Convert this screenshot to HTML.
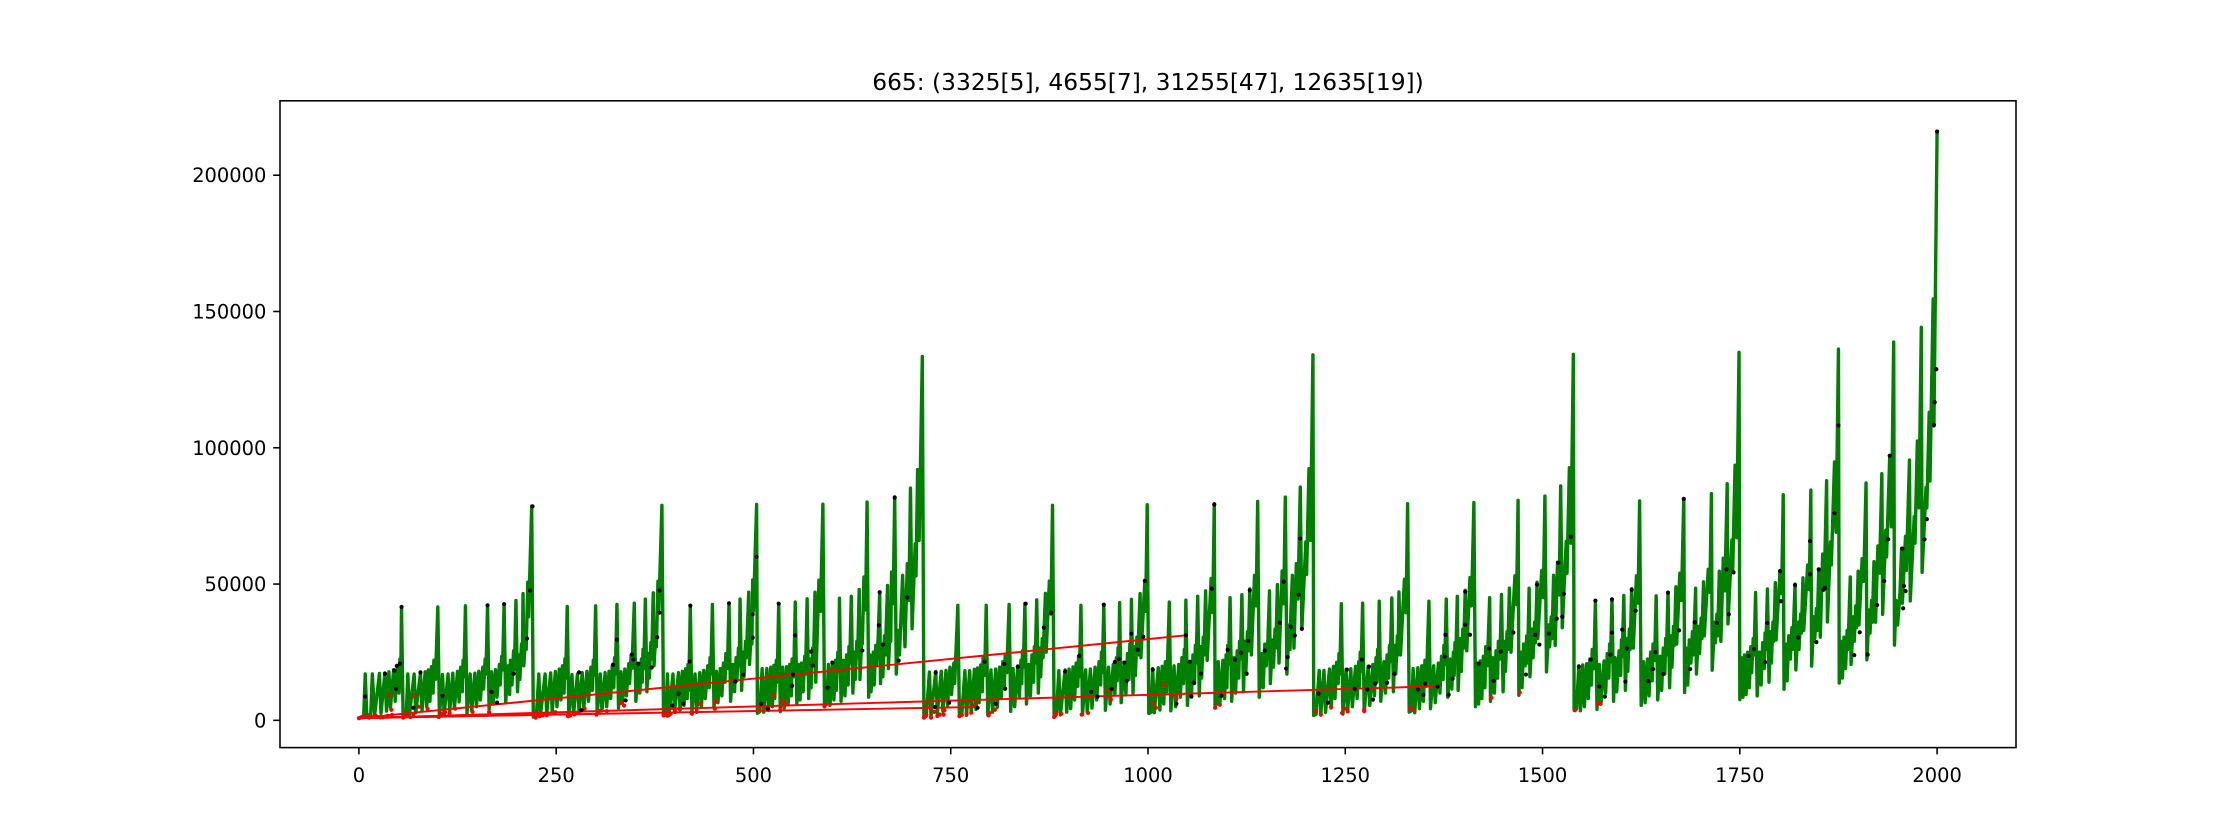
<!DOCTYPE html>
<html lang="en">
<head>
<meta charset="utf-8">
<title>665 chart</title>
<style>
html,body{margin:0;padding:0;background:#fff;}
body{width:2240px;height:840px;overflow:hidden;}
svg{display:block;}
text{font-family:"DejaVu Sans","Liberation Sans",sans-serif;fill:#000;}
</style>
</head>
<body>
<svg id="chart" xmlns="http://www.w3.org/2000/svg" width="2240" height="840" viewBox="0 0 2240 840">
<rect x="0" y="0" width="2240" height="840" fill="#fff"/>
<text x="1148" y="90" font-size="23.33" text-anchor="middle">665: (3325[5], 4655[7], 31255[47], 12635[19])</text>
<g id="marks"></g>
<g id="axes"></g>
</svg>
<script>
const xTickLabels=[0,250,500,750,1000,1250,1500,1750,2000];
const yTickLabels=[0,50000,100000,150000,200000];
const rayStartX=[0];
const rayStartY=[800];
const rayEndX=[1048,1366,784,250,215];
const rayEndY=[31200,12500,4900,2800,2000];
const lineX=[
0,4,6,8,10,15,17,20,26,28,33,35,38,40,44,46,49,51,52,53,54,
56,60,62,64,70,72,78,80,84,86,88,90,92,94,95,97,100,
102,106,108,113,115,119,121,125,127,129,131,132,133,135,
137,141,143,147,149,152,154,157,158,160,161,163,
165,168,170,173,175,178,179,181,182,184,
186,189,191,192,194,196,197,199,
201,203,204,206,207,208,
209,211,212,214,215,219,
221,225,228,230,236,238,243,245,249,251,254,256,258,260,261,262,264,
266,270,272,277,279,283,285,289,291,294,296,297,298,300,
302,306,308,312,314,317,319,321,323,324,325,327,
329,332,334,337,339,342,343,345,346,349,
351,354,356,358,359,360,361,363,
365,367,368,370,371,373,
374,376,377,379,380,384,
386,389,391,393,398,400,405,407,410,412,414,416,417,418,420,
422,426,428,432,434,437,439,442,444,445,446,448,
450,453,455,458,460,462,464,465,467,469,
471,474,476,478,479,481,482,483,
485,487,488,490,491,494,
495,497,498,499,500,504,
505,508,511,513,517,519,522,524,526,527,529,530,532,
534,537,539,542,544,546,548,549,551,553,
555,557,559,561,563,565,566,568,
570,572,573,575,576,578,
579,583,585,588,
590,593,595,597,600,602,604,605,607,608,609,
611,614,616,618,620,621,622,624,
626,628,629,631,632,634,
635,637,638,640,642,644,
646,648,649,652,653,655,656,658,660,
661,663,664,666,667,670,
671,673,674,675,677,679,
681,684,685,687,689,
692,695,697,699,701,705,706,708,710,714,
716,719,723,725,731,733,738,740,744,746,749,751,754,755,759,
761,764,768,770,774,776,780,782,784,786,788,790,791,793,795,
797,801,803,807,809,812,814,816,818,819,821,824,
826,829,831,835,837,839,840,841,842,844,
846,849,851,853,855,856,857,859,
861,863,864,866,867,870,
871,875,877,879,
881,884,887,889,895,897,900,902,905,907,909,911,912,913,915,
917,921,923,927,929,933,935,938,940,941,942,944,
946,950,952,956,958,960,961,962,963,964,
966,970,972,974,976,977,978,979,
981,983,984,986,987,990,
991,996,997,999,
1001,1004,1006,1008,1013,1015,1018,1020,1022,1024,1025,1027,
1029,1033,1035,1039,1041,1043,1045,1046,1047,1048,
1050,1053,1055,1057,1059,1060,1061,1063,
1065,1067,1068,1070,1071,1073,
1075,1080,1082,1084,
1085,1087,1089,1091,1095,1097,1099,1100,1101,1102,1104,
1106,1109,1111,1113,1115,1116,1117,1119,
1121,1123,1124,1126,1127,1129,
1131,1135,1137,1139,
1141,1144,1146,1148,1150,1152,1154,
1155,1158,1159,1161,1162,1164,
1166,1170,1172,1174,
1176,1179,1180,1181,1183,
1185,1188,1190,1193,1195,1200,1201,1204,1206,1209,
1210,1213,1217,1219,1223,1225,1230,1232,1235,1237,1239,1241,1242,1243,1245,
1247,1251,1253,1257,1259,1263,1265,1267,1268,1269,1270,1272,
1274,1279,1281,1285,1287,1289,1290,1291,1292,1293,
1295,1299,1301,1303,1305,1306,1307,1309,
1311,1313,1314,1316,1317,1318,
1320,1325,1327,1329,
1331,1334,1336,1338,1342,1344,1347,1349,1351,1353,1354,1356,
1358,1362,1364,1368,1370,1372,1374,1375,1376,1378,
1380,1383,1385,1387,1388,1389,1390,1392,
1393,1396,1397,1399,1400,1402,
1404,1408,1410,1413,
1415,1417,1419,1421,1423,1425,1427,1428,1430,1433,
1434,1437,1439,1441,1443,1444,1446,1448,
1450,1452,1453,1455,1456,1458,
1460,1465,1467,1469,
1470,1472,1474,1476,1478,1480,1481,1483,
1484,1487,1488,1490,1491,1493,
1494,1499,1501,1503,
1505,1508,1509,1511,1512,1514,
1516,1519,1521,1523,1525,1530,1531,1534,1536,1539,
1540,1543,1546,1548,1551,1553,1556,1558,1560,1562,1563,1565,1567,
1569,1572,1574,1578,1580,1582,1584,1585,1586,1588,
1590,1592,1594,1597,1599,1600,1601,1603,
1605,1607,1608,1610,1611,1613,
1615,1619,1621,1623,
1625,1628,1630,1633,1635,1637,1639,1640,1642,1644,
1646,1649,1651,1653,1655,1656,1657,1659,
1661,1663,1664,1666,1667,1669,
1670,1674,1676,1679,
1680,1682,1684,1686,1688,1690,1691,1694,
1695,1698,1699,1701,1702,1704,
1705,1710,1712,1714,
1715,1718,1719,1721,1722,1724,
1726,1729,1731,1734,1735,1740,1741,1744,1746,1749,
1750,1752,1754,1756,1758,1760,1762,1764,1765,1767,1768,1770,
1772,1775,1777,1779,1781,1782,1783,1785,
1787,1789,1790,1792,1793,1795,
1796,1801,1803,1805,
1806,1808,1810,1812,1814,1816,1817,1820,
1821,1824,1825,1827,1828,1830,
1831,1836,1838,1840,
1841,1844,1845,1847,1848,1850,
1852,1855,1857,1860,1861,1865,1866,1870,1872,1875,
1876,1878,1880,1882,1884,1886,1887,1890,
1891,1894,1895,1897,1898,1900,
1901,1905,1907,1910,
1911,1914,1915,1917,1918,1920,
1922,1925,1927,1930,1931,1935,1936,1940,1942,1945,
1946,1948,1950,1953,1955,1956,1960,1961,1965,1966,1971,1972,1975,1977,1980,
1981,1986,1987,1990,1991,1995,1996,2000
];
const lineY=[
800,1400,1100,17000,1700,2300,17000,2000,17200,2600,17400,3400,17800,4800,18600,7000,20000,10000,22500,15000,41500,
1200,2000,17000,2000,17000,2800,17300,3600,17800,5000,18500,7000,19700,10000,22000,15000,41600,
1600,16800,2200,17000,3000,17300,4400,18000,6800,19500,10500,22000,16000,42000,
2500,17000,3500,17300,5000,18000,7500,19500,11500,22500,17000,42200,
4000,17800,6000,18600,8500,20500,13000,23500,18500,42600,
6500,20000,9500,22000,13000,25500,18500,44000,
10500,24000,15000,28000,22000,46500,
20000,30000,26000,50700,38000,78600,
1200,1800,17000,1700,17000,2500,17400,3300,17900,5000,18800,7500,20000,10000,22500,15500,41800,
1600,16800,2200,17000,3000,17500,4500,18000,7000,19500,11000,22000,16500,42000,
2500,17000,3500,17500,5000,18000,8000,19800,12000,23000,17000,42500,
4500,17800,6500,18800,9000,20800,13500,24000,19000,43000,
7000,20000,10000,22500,14000,26000,19000,44500,
10500,24500,15500,28500,22500,46800,
20000,30500,27000,51000,39500,78900,
1800,2000,17000,1800,17000,3000,17500,3800,18000,5500,18900,8000,20500,11000,41800,
2700,17000,3500,17500,5000,18300,8000,20000,12000,23000,17000,42500,
4500,18000,6500,19000,9000,21000,14000,24500,19000,43000,
7000,20500,10500,23000,14500,26500,20000,44500,
11000,25000,16000,29000,23000,47000,
20500,31500,28000,51500,40000,79200,
2600,3200,19000,3000,19000,3600,19500,5000,20200,8000,22000,14000,42900,
3200,19500,4500,19700,6000,20500,9000,22500,16000,43400,
6000,20500,7500,21000,10500,23500,17000,44600,
8000,22500,12000,26500,20500,47000,
14000,51400,40000,79300,
5500,6000,20500,5500,21000,7500,22000,11000,25000,18000,44800,
7000,22000,9000,24000,13000,27000,21000,45500,
10000,25000,15000,29000,23000,48000,
15000,29000,28000,52600,40500,80100,
8500,24000,10500,25000,13000,27500,20500,30000,47000,
13500,27000,16000,31000,24000,49500,
19000,32000,29000,54400,42800,82000,
17000,33000,24000,38000,53200,
27000,57500,44000,85200,33600,64800,53000,92000,66000,133500,
1200,1500,17700,1500,17900,2300,18000,3300,18300,5500,19500,9500,21000,13500,42200,
1500,2000,18200,1800,18200,2800,18700,4000,19200,6500,20300,10500,23000,16500,42200,
1900,18500,3000,18800,4800,19500,8000,21500,12500,24000,17500,42500,
3300,19000,5000,20000,8500,22000,13500,25500,19500,42900,
6000,20500,9000,24000,14000,27000,21000,44200,
10000,26500,16000,30000,23000,46600,
25000,51100,39000,78900,
1800,2200,18200,2000,18500,3000,18800,4300,19600,7500,21000,12500,23500,16000,42200,
2200,18500,3000,18800,4500,19500,7500,21500,13000,25000,17500,42500,
3700,19500,6000,20500,9500,23000,14500,26500,20000,43200,
6500,21000,9500,24500,15000,28000,22000,44400,
10000,27000,16500,30500,24000,46500,
23000,51200,40000,79100,
2500,3000,19000,2800,19300,3800,19800,6000,21500,10500,24000,43400,
3500,20000,5000,20500,8500,23000,13500,26000,19000,44100,
5500,21500,8500,24000,13500,27500,21000,45500,
9000,27000,15500,30500,24000,47500,
22000,52000,39500,79500,
5000,6000,21500,6000,22000,8000,24000,12000,27500,20500,45000,
7000,23000,10000,25500,15500,29000,22500,46100,
10500,29000,17500,32500,25500,48200,
24000,53200,42000,80300,
8500,24500,12000,28000,20000,30000,47500,
13500,29500,19500,33500,26500,49800,
21000,54800,42800,81900,
17000,35000,26000,39000,53200,
26500,57500,44500,85600,33500,65500,53500,92300,66000,134100,
1800,2200,18300,2000,18300,2900,18800,4500,19800,8000,21300,13500,24500,17000,42800,
2300,18600,3300,18900,5000,19800,8000,21500,12500,25000,18000,43000,
3200,19800,5500,20500,9000,23000,14000,26000,20000,43700,
7000,21500,10000,24000,15500,27500,21500,44900,
10500,27500,17000,31000,24000,47100,
24000,51800,39500,79500,
3000,3500,19000,2800,19300,4300,20000,7000,22000,12500,25000,43700,
4300,20000,6500,21000,10000,23500,15000,27500,20500,44500,
8500,22500,11500,25000,16500,28500,22000,45500,
11000,30000,18000,33500,26500,47700,
25500,52400,42000,79900,
5000,21000,6000,21800,8000,23500,12000,27000,20000,45000,
7000,23000,10000,25500,15500,29000,22500,46200,
10500,29000,18000,32500,26000,48500,
25000,53000,42500,80700,
9200,25000,12000,28000,20000,31000,21000,48500,
16000,33500,23000,36000,28500,50700,
30000,55000,45000,82300,
17800,35000,27000,38000,30000,53200,
27500,58000,46000,86000,34000,65700,54000,92700,65000,134300,
3700,4200,20000,3500,20300,5000,20800,8000,22500,13000,26000,19000,44000,
4000,20500,6000,21800,10000,24500,15500,28000,21500,44600,
7000,23000,10500,25500,16500,29500,23500,45800,
11000,30000,18000,33500,26000,48300,
26500,53000,43000,80500,
5500,21500,6500,22500,9000,25000,14500,28000,22000,45700,
7500,23500,11000,26500,17000,30000,24000,47000,
12000,31000,19500,34500,27500,49000,
28000,54000,44000,81400,
10200,26500,13000,29500,21000,32500,24000,48500,
17000,34500,24500,37500,30000,50800,
31000,55400,47000,83200,
18400,36000,28500,39000,31000,54700,
29000,59500,47500,86800,35400,66200,55000,93600,67000,135000,
7600,23000,8500,24000,9500,25000,12000,27000,17500,30000,24000,46900,
9000,25000,13000,28500,19000,32000,26000,48200,
14000,32500,21000,36000,29000,50500,
29500,55000,46500,82800,
11400,28000,14500,31000,22500,34000,26000,50000,
18500,36000,26000,39000,32000,52300,
33000,57000,48000,84500,
19900,38000,30000,41000,33000,55400,
30500,61000,49500,87900,36100,65500,57000,94800,69000,136200,
13700,29000,15500,30500,19000,33000,26000,52600,
20500,38000,29000,42000,34000,54700,
35000,59300,51000,87100,
22200,40500,32000,44000,36000,58200,
36000,64000,54000,90500,38900,69800,60000,97100,71000,138800,
27600,44000,35000,47000,63100,43000,67500,55000,95500,43800,74700,65000,102500,78000,144200,
54300,85500,78000,113000,87800,154600,108000,216000
];
const blackX=[8,33,45,48,52,47,54,69,78,106,163,184,168,175,196,213,217,220,282,279,327,322,346,348,354,338,371,378,381,381,397,405,411,419,420,469,477,487,499,499,504,532,510,518,549,550,553,573,575,594,600,638,659,660,664,679,684,695,730,731,748,784,793,807,818,819,835,845,868,877,895,913,928,936,944,954,958,963,970,973,979,987,994,996,1006,1036,1048,1053,1055,1058,1067,1081,1084,1093,1101,1110,1118,1125,1127,1129,1148,1167,1172,1177,1175,1181,1186,1191,1193,1195,1216,1228,1252,1262,1271,1278,1280,1285,1288,1303,1312,1342,1349,1351,1367,1376,1377,1381,1386,1402,1402,1408,1419,1432,1438,1447,1463,1479,1491,1493,1496,1508,1518,1520,1525,1527,1536,1546,1561,1567,1572,1579,1586,1588,1588,1601,1607,1605,1613,1618,1634,1640,1643,1653,1659,1673,1679,1687,1693,1721,1736,1733,1742,1761,1768,1782,1785,1801,1802,1820,1824,1839,1839,1847,1850,1856,1858,1870,1875,1895,1902,1912,1924,1933,1938,1940,1956,1957,1958,1960,1984,1987,1996,1997,1999,2000];
const blackY=[8800,17100,18300,20000,20800,11600,41600,4600,17600,9000,42200,42600,10500,6500,17100,30000,47600,78500,3700,17600,29600,20400,24100,22300,20800,7300,19400,30500,39500,47600,5400,9800,6100,21600,42100,42900,14200,16800,30300,38900,60000,42800,6100,4300,12700,16800,31200,25200,20100,12000,21200,25600,34900,47000,27800,81700,21900,45100,4900,17500,6500,4600,21500,6100,20700,11600,19600,42800,34000,39500,17900,23700,10500,8700,42400,11600,21400,22500,21200,14500,31800,25900,30700,51200,18600,6100,31200,21500,8800,13800,17100,48300,79200,9000,25900,22300,24800,17100,29200,47700,25600,35800,50900,23200,19000,34400,31100,46100,66700,33600,9800,6500,18600,11600,22300,11300,19700,7600,13500,13800,17100,11300,9400,13500,12400,23400,31400,9400,15300,47200,35100,31400,20800,26300,14500,25200,32200,16800,31400,49800,27800,31800,37300,57800,38000,46400,67400,19700,22300,43900,12400,8700,24100,32200,44300,33300,26300,14200,47900,40200,14400,18800,25000,17000,46800,33000,81200,18800,36000,35700,38900,55400,54300,23600,26200,21300,35700,54700,43700,49600,30400,65800,53600,28700,55400,47900,48600,76000,108200,23900,32300,24100,42300,51100,66400,97100,63000,41100,49300,47400,66400,73800,108400,116700,128800,216000];
const redX=[0,2,4,6,10,13,15,20,22,27,30,36,42,39,41,70,76,87,56,60,65,69,101,105,109,115,122,144,165,222,224,229,233,238,249,265,268,273,276,286,301,305,314,332,336,386,391,395,401,406,422,428,431,452,451,525,537,534,541,590,716,718,719,720,725,729,733,736,741,742,761,764,770,776,780,798,799,806,881,882,883,890,916,924,949,953,1006,1010,1020,1036,1085,1091,1213,1219,1232,1246,1249,1253,1274,1274,1332,1337,1435,1471,1541,1570,1573];
const redY=[800,1000,1100,1500,1200,1000,1400,1700,1500,1100,1100,1700,2000,9400,3900,8900,5000,4200,1000,2700,1200,2400,1200,2400,3000,2500,4300,3100,3000,1800,1000,1500,1800,1800,3000,1500,1800,2200,2700,4300,2100,3400,3400,6400,5400,1800,1700,2400,3100,4300,2400,3100,6100,6800,4300,9000,7200,4000,5900,5100,1000,1500,2100,4900,1000,3100,1600,2100,2100,3700,1500,2000,2400,2800,5500,1800,2700,3900,1200,1600,2400,2400,2100,2700,10900,7600,6400,4600,13100,7900,4600,5700,3400,2100,4900,2700,4300,3300,3400,4000,4500,3700,8300,10200,3700,6100,6100];

const svgNS='http://www.w3.org/2000/svg';
const plotLeft=280,plotRight=2016,plotTop=100.8,plotBottom=747.6;
const xMin=-100,xMax=2100,yMin=-10000,yMax=227300;
function sx(v){return plotLeft+(v-xMin)/(xMax-xMin)*(plotRight-plotLeft);}
function sy(v){return plotBottom-(v-yMin)/(yMax-yMin)*(plotBottom-plotTop);}
const marks=document.getElementById('marks');
const axes=document.getElementById('axes');
function node(tag,attrs,parent){
  const n=document.createElementNS(svgNS,tag);
  for(const k in attrs){n.setAttribute(k,attrs[k]);}
  parent.appendChild(n);
  return n;
}

const lineCount=Math.min(lineX.length,lineY.length);
let d='';
for(let i=0;i<lineCount;i++){
  d+=(i?'L':'M')+sx(lineX[i]).toFixed(2)+' '+sy(lineY[i]).toFixed(2);
}
const greenLine=node('path',{d:d,fill:'none',stroke:'#008000','stroke-width':3.4,'stroke-linejoin':'round','stroke-linecap':'square'},marks);



for(let i=0;i<rayEndX.length;i++){
  const ray=node('line',{x1:sx(rayStartX[0]),y1:sy(rayStartY[0]),x2:sx(rayEndX[i]),y2:sy(rayEndY[i]),stroke:'#ff0000','stroke-width':1.95},marks);
  
  
}
for(let i=0;i<Math.min(redX.length,redY.length);i++){
  const dot=node('circle',{cx:sx(redX[i]),cy:sy(redY[i]),r:2.1,fill:'#ff0000'},marks);
  
  
}
for(let i=0;i<Math.min(blackX.length,blackY.length);i++){
  const dot=node('circle',{cx:sx(blackX[i]),cy:sy(blackY[i]),r:2.1,fill:'#000000'},marks);
  
  
}

const frame=node('rect',{x:plotLeft,y:plotTop,width:plotRight-plotLeft,height:plotBottom-plotTop,fill:'none',stroke:'#000','stroke-width':1.56},axes);


xTickLabels.forEach(function(v){
  const tick=node('line',{x1:sx(v),x2:sx(v),y1:plotBottom,y2:plotBottom+6.8,stroke:'#000','stroke-width':1.56},axes);
  
  
  const label=node('text',{x:sx(v),y:782,'font-size':19.44,'text-anchor':'middle'},axes);
  
  
  label.textContent=String(v);
});
yTickLabels.forEach(function(v){
  const tick=node('line',{x1:plotLeft-6.8,x2:plotLeft,y1:sy(v),y2:sy(v),stroke:'#000','stroke-width':1.56},axes);
  
  
  const label=node('text',{x:plotLeft-13.6,y:sy(v)+7,'font-size':19.44,'text-anchor':'end'},axes);
  
  
  label.textContent=String(v);
});
</script>
</body>
</html>
